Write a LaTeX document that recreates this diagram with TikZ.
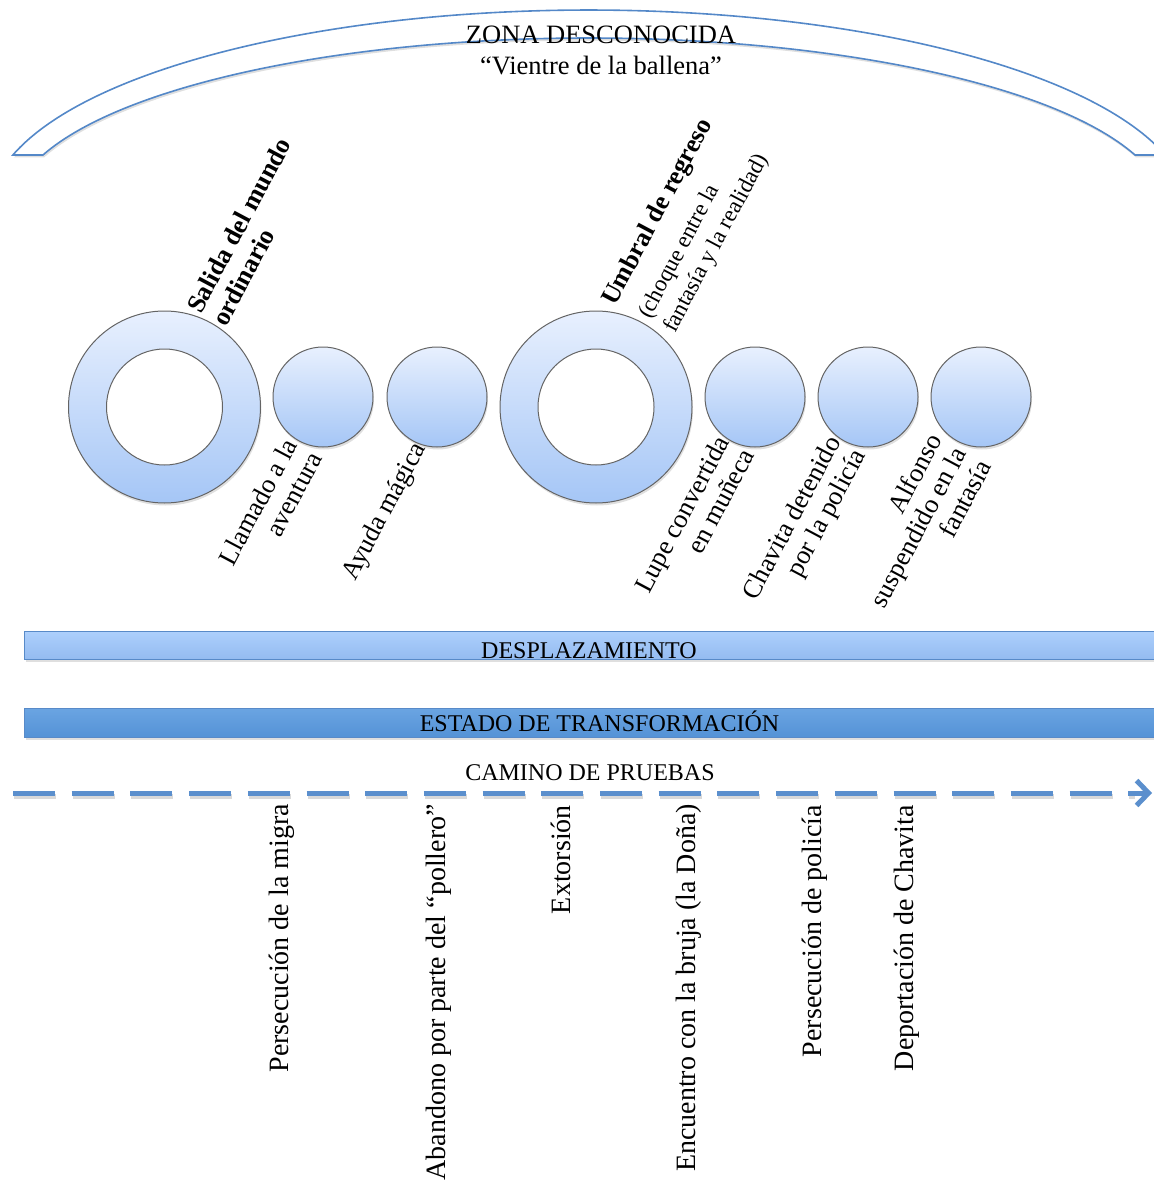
\documentclass[tikz,border=0pt]{standalone}
\usepackage{fontspec}
\setmainfont{Liberation Serif}
\usetikzlibrary{shadows,arrows.meta}
\definecolor{arcblue}{RGB}{84,136,200}
\definecolor{circtop}{RGB}{232,240,254}
\definecolor{circbot}{RGB}{165,198,246}
\definecolor{baronetop}{RGB}{172,207,252}
\definecolor{baronebot}{RGB}{148,187,240}
\definecolor{bartwotop}{RGB}{106,164,226}
\definecolor{bartwobot}{RGB}{84,146,214}
\definecolor{barline}{RGB}{88,138,200}
\definecolor{dashblue}{RGB}{91,143,205}
\definecolor{ringgray}{RGB}{100,100,100}
\begin{document}
\begin{tikzpicture}[x=1pt,y=-1pt,
  softshadow/.style={drop shadow={opacity=0.25, shadow xshift=1pt, shadow yshift=-2.5pt}},
  bubble/.style={circle, draw=ringgray, line width=1pt, top color=circtop, bottom color=circbot, inner sep=0, softshadow},
  hole/.style={circle, draw=ringgray, line width=1pt, fill=white, inner sep=0},
  upline/.style={rotate=62, anchor=base west, inner sep=0},
  upbold/.style={upline, font=\bfseries\fontsize{26}{28}\selectfont},
  upreg/.style={upline, font=\fontsize{23}{28}\selectfont},
  lowlabel/.style={rotate=62, anchor=north east, align=right, inner sep=0, font=\fontsize{26.5}{28}\selectfont},
  triallabel/.style={rotate=90, anchor=base east, inner sep=0, font=\fontsize{28}{30}\selectfont},
  bartext/.style={inner sep=0, font=\fontsize{24}{28}\selectfont, anchor=base},
  toptext/.style={inner sep=0, font=\fontsize{26.5}{31}\selectfont, anchor=base},
  bandline/.style={draw=arcblue, line width=1.6pt, fill=white, softshadow},
  barone/.style={rectangle, draw=barline, line width=1.2pt, top color=baronetop, bottom color=baronebot, inner sep=0, anchor=north west, softshadow},
  bartwo/.style={rectangle, draw=barline, line width=1.2pt, top color=bartwotop, bottom color=bartwobot, inner sep=0, anchor=north west, softshadow},
  dashline/.style={draw=dashblue, line width=5pt, dash pattern=on 42pt off 16.7pt, -{Straight Barb[length=12pt,width=25pt]}},
  dashshade/.style={draw=black, opacity=0.15, line width=5pt, dash pattern=on 42pt off 16.7pt},
]
\useasboundingbox (0,0) rectangle (1153,1182);

% unknown zone band
\draw[bandline] (12.9,155) arc[start angle=196.2, end angle=343.8, x radius=600, y radius=201]
  -- (1135,155) arc[start angle=341.14, end angle=198.86, x radius=577, y radius=172.8] -- cycle;
\node[toptext] (zona) at (601,44) {ZONA DESCONOCIDA};
\node[toptext] (vientre) at (601,75) {“Vientre de la ballena”};

% circles
\node[bubble, minimum size=192] (ring1) at (164.5,407) {};
\node[hole, minimum size=116] (hole1) at (ring1.center) {};
\node[bubble, minimum size=100] (c2) at (323,397) {};
\node[bubble, minimum size=100] (c3) at (437,397) {};
\node[bubble, minimum size=192] (ring2) at (596,407) {};
\node[hole, minimum size=116] (hole2) at (ring2.center) {};
\node[bubble, minimum size=100] (c4) at (755,397) {};
\node[bubble, minimum size=100] (c5) at (868,397) {};
\node[bubble, minimum size=100] (c6) at (981,397) {};

% upper labels
\node[upbold] (lsalidaa) at (201,315) {Salida del mundo};
\node[upbold] (lsalidab) at (226,328) {ordinario};
\node[upbold] (lumbrala) at (615,307) {Umbral de regreso};
\node[upreg] (lumbralb) at (650,320) {(choque entre la};
\node[upreg] (lumbralc) at (675,334) {fantasía y la realidad)};

% lower labels
\node[lowlabel] (lllamado) at (282,436) {Llamado a la\\aventura};
\node[lowlabel] (layuda) at (410,439) {Ayuda mágica};
\node[lowlabel] (llupe) at (714,433) {Lupe convertida\\en muñeca};
\node[lowlabel] (lchavita) at (825,433) {Chavita detenido\\por la policía};
\node[lowlabel] (lalfonso) at (926,431) {Alfonso\\suspendido en la\\fantasía};

% bars
\node[barone, minimum width=1150, minimum height=28] (desp) at (24,631) {};
\node[bartext] (tdesp) at (589,658) {DESPLAZAMIENTO};
\node[bartwo, minimum width=1150, minimum height=29] (estado) at (24,708) {};
\node[bartext] (testado) at (599.5,731) {ESTADO DE TRANSFORMACIÓN};
\node[bartext] (tcamino) at (590,780) {CAMINO DE PRUEBAS};

% dashed path of trials
\coordinate (dstart) at (13,793);
\coordinate (dend) at (1152,793);
\coordinate (sstart) at (14,796);
\coordinate (send) at (1135,796);
\draw[dashshade] (sstart) -- (send);
\draw[dashline] (dstart) -- (dend);

% trials
\node[triallabel] (t1) at (288,804) {Persecución de la migra};
\node[triallabel] (t2) at (445,804) {Abandono por parte del “pollero”};
\node[triallabel] (t3) at (570,805) {Extorsión};
\node[triallabel] (t4) at (695,804) {Encuentro con la bruja (la Doña)};
\node[triallabel] (t5) at (821,805) {Persecución de policía};
\node[triallabel] (t6) at (913,805) {Deportación de Chavita};
\end{tikzpicture}
\end{document}
